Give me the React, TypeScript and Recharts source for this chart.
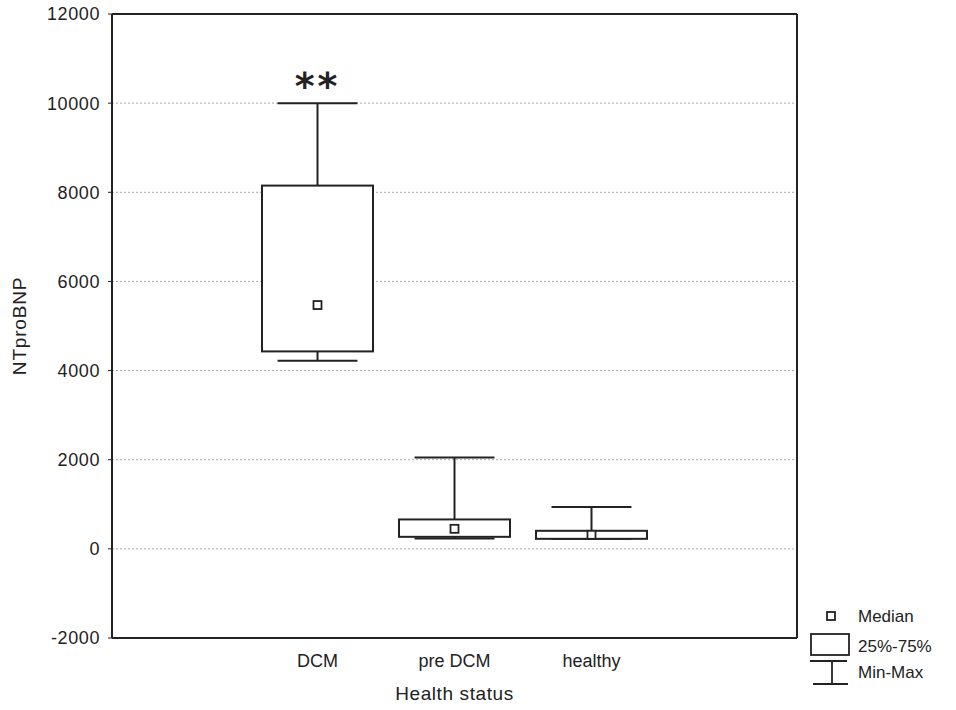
import {
  ComposedChart,
  Bar,
  XAxis,
  YAxis,
  CartesianGrid,
  Legend,
  LabelList,
} from "recharts";

// box plot stats per group (first and last slots are empty padding)
const groups = ["", "DCM", "pre DCM", "healthy", ""];
const minVals = [null, 4220, 230, 225, null];
const q1Vals = [null, 4430, 270, 225, null];
const medianVals = [null, 5470, 450, 315, null];
const q3Vals = [null, 8150, 660, 405, null];
const maxVals = [null, 10000, 2050, 940, null];
const marks = ["", "**", "", "", ""];
const yTicks = [-2000, 0, 2000, 4000, 6000, 8000, 10000, 12000];

const data = groups.map((name, i) => ({
  name,
  range: minVals[i] == null ? null : [minVals[i], maxVals[i]],
  min: minVals[i],
  q1: q1Vals[i],
  median: medianVals[i],
  q3: q3Vals[i],
  max: maxVals[i],
  mark: marks[i],
}));

const ink = "#222";
const font = "'Liberation Sans', Arial, sans-serif";

// whole box-and-whisker drawn inside the min..max bar rectangle
function BoxShape(props: any) {
  const { x, y, width, height, payload } = props;
  if (!payload || payload.min == null) return null;
  const top = Math.min(y, y + height);
  const h = Math.abs(height);
  const span = payload.max - payload.min;
  const py = (v: number) => top + ((payload.max - v) / span) * h;
  const cx = x + width / 2;
  const cap = width * 0.36;
  const yMax = py(payload.max);
  const yMin = py(payload.min);
  const yQ1 = py(payload.q1);
  const yQ3 = py(payload.q3);
  const yMed = py(payload.median);
  return (
    <g stroke={ink} strokeWidth={2} fill="none">
      <line x1={cx} x2={cx} y1={yMax} y2={yQ3} />
      <line x1={cx - cap} x2={cx + cap} y1={yMax} y2={yMax} />
      <line x1={cx} x2={cx} y1={yQ1} y2={yMin} />
      <line x1={cx - cap} x2={cx + cap} y1={yMin} y2={yMin} />
      <rect x={x} y={yQ3} width={width} height={Math.max(yQ1 - yQ3, 1)} fill="#fff" />
      <rect x={cx - 4} y={yMed - 4} width={8} height={8} fill="#fff" strokeWidth={1.8} />
    </g>
  );
}

function MarkLabel(props: any) {
  const { x, y, width, value } = props;
  if (!value) return null;
  return (
    <text
      x={x + width / 2}
      y={y - 4}
      textAnchor="middle"
      fontFamily="'DejaVu Sans', sans-serif"
      fontWeight="bold"
      fontSize={38}
      letterSpacing={3}
      fill={ink}
    >
      {value}
    </text>
  );
}

function BoxLegend() {
  const t = { fontFamily: font, fontSize: 17, fill: ink };
  return (
    <svg width={150} height={95}>
      <g stroke={ink} strokeWidth={1.8} fill="none">
        <rect x={22} y={10} width={8} height={8} fill="#fff" />
        <rect x={6} y={32} width={38} height={21} />
        <line x1={5} x2={42} y1={59} y2={59} />
        <line x1={27} x2={27} y1={59} y2={82} />
        <line x1={8} x2={43} y1={82} y2={82} />
      </g>
      <text x={53} y={20} {...t}>Median</text>
      <text x={53} y={50} {...t}>25%-75%</text>
      <text x={53} y={76} {...t}>Min-Max</text>
    </svg>
  );
}

export default function App() {
  return (
    <div style={{ position: "absolute", left: 0, top: 0, background: "#fff" }}>
      <ComposedChart
        width={956}
        height={710}
        data={data}
        margin={{ top: 13, right: 158, left: 0, bottom: 0 }}
      >
        <CartesianGrid vertical={false} stroke="#aaa" strokeDasharray="2 2" />
        <XAxis
          dataKey="name"
          height={72}
          tickSize={0}
          tickMargin={16}
          axisLine={{ stroke: ink, strokeWidth: 2 }}
          tick={{ fill: ink, fontSize: 18, fontFamily: font }}
          label={(p: any) => {
            const vb = p.viewBox;
            return (
              <text
                x={vb.x + vb.width / 2}
                y={vb.y + 62}
                textAnchor="middle"
                fontFamily={font}
                fontSize={19}
                letterSpacing={0.6}
                fill={ink}
              >
                Health status
              </text>
            );
          }}
        />
        <XAxis
          xAxisId="top"
          dataKey="name"
          orientation="top"
          height={1}
          tick={false}
          tickLine={false}
          axisLine={{ stroke: ink, strokeWidth: 2 }}
        />
        <YAxis
          width={112}
          domain={[-2000, 12000]}
          ticks={yTicks}
          interval={0}
          tickSize={4}
          tickMargin={8}
          axisLine={{ stroke: ink, strokeWidth: 2 }}
          tickLine={{ stroke: ink }}
          tick={{ fill: ink, fontSize: 18, fontFamily: font, letterSpacing: 0.6 }}
          label={(p: any) => {
            const vb = p.viewBox;
            const cy = vb.y + vb.height / 2;
            return (
              <text
                x={26}
                y={cy}
                transform={`rotate(-90 26 ${cy})`}
                textAnchor="middle"
                fontFamily={font}
                fontSize={19}
                letterSpacing={0.8}
                fill={ink}
              >
                NTproBNP
              </text>
            );
          }}
        />
        <YAxis
          yAxisId="right"
          orientation="right"
          width={1}
          domain={[-2000, 12000]}
          tick={false}
          tickLine={false}
          axisLine={{ stroke: ink, strokeWidth: 2 }}
        />
        <Bar
          dataKey="range"
          barSize={111}
          shape={BoxShape}
          isAnimationActive={false}
          legendType="none"
        >
          <LabelList dataKey="mark" content={MarkLabel} />
        </Bar>
        <Legend
          layout="vertical"
          align="center"
          verticalAlign="middle"
          content={BoxLegend}
          wrapperStyle={{ left: 805, top: 602, width: 150, height: 95 }}
        />
      </ComposedChart>
    </div>
  );
}
